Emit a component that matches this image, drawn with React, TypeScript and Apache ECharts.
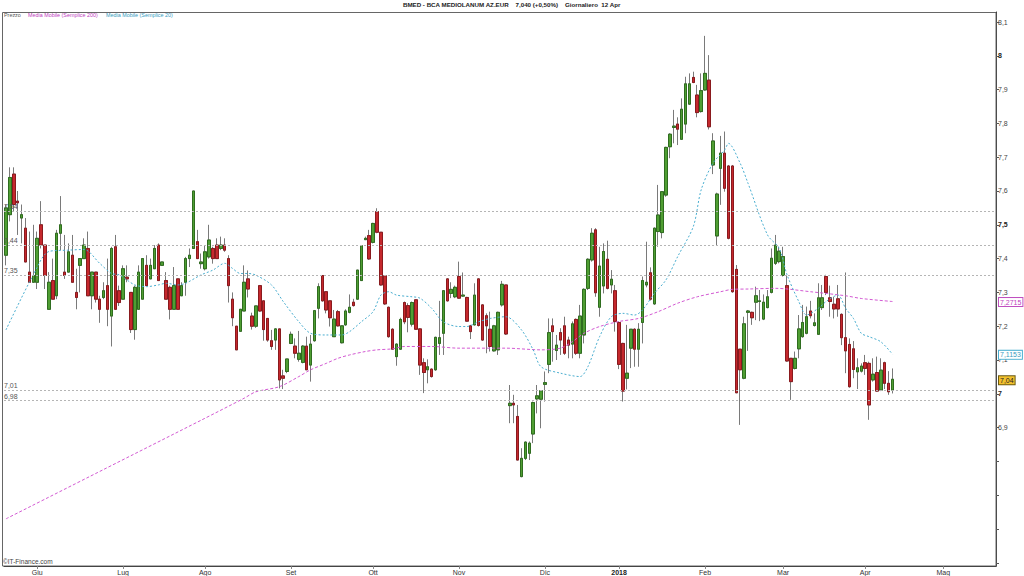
import React, { useEffect, useRef } from "react";
import * as echarts from "echarts";

// [open, close, low, high] per trading day, 22 May 2017 .. 12 Apr 2018
const candles: number[][] = [
  [7.41,7.55,7.38,7.56],[7.53,7.64,7.51,7.67],[7.65,7.56,7.54,7.67],[7.57,7.565,7.47,7.60],[7.52,7.53,7.445,7.56],
  [7.49,7.39,7.39,7.52],[7.36,7.33,7.33,7.48],[7.33,7.35,7.33,7.50],[7.33,7.46,7.31,7.48],[7.50,7.44,7.43,7.57],
  [7.44,7.35,7.31,7.44],[7.25,7.33,7.25,7.36],[7.335,7.28,7.28,7.40],[7.29,7.475,7.28,7.485],[7.475,7.50,7.425,7.585],
  [7.36,7.35,7.34,7.47],[7.36,7.42,7.36,7.445],[7.41,7.33,7.33,7.47],[7.30,7.285,7.25,7.37],[7.38,7.40,7.30,7.40],
  [7.40,7.44,7.40,7.46],[7.43,7.29,7.29,7.48],[7.29,7.36,7.25,7.36],[7.36,7.28,7.27,7.36],[7.28,7.25,7.21,7.29],
  [7.285,7.305,7.28,7.33],[7.32,7.25,7.20,7.40],[7.23,7.43,7.14,7.435],[7.435,7.25,7.25,7.47],[7.305,7.27,7.26,7.32],
  [7.28,7.37,7.28,7.38],[7.345,7.34,7.33,7.38],[7.30,7.19,7.18,7.30],[7.19,7.315,7.16,7.32],[7.25,7.36,7.25,7.38],
  [7.28,7.40,7.28,7.40],[7.38,7.32,7.32,7.41],[7.34,7.38,7.34,7.40],[7.37,7.43,7.37,7.44],[7.44,7.335,7.335,7.445],
  [7.38,7.39,7.38,7.39],[7.335,7.28,7.28,7.36],[7.315,7.25,7.22,7.32],[7.25,7.32,7.25,7.375],[7.34,7.25,7.25,7.34],
  [7.29,7.32,7.29,7.33],[7.33,7.40,7.29,7.405],[7.40,7.41,7.375,7.43],[7.43,7.60,7.43,7.60],[7.45,7.40,7.40,7.485],
  [7.385,7.39,7.37,7.415],[7.37,7.42,7.365,7.44],[7.405,7.455,7.40,7.50],[7.43,7.40,7.385,7.435],[7.44,7.40,7.40,7.46],
  [7.43,7.44,7.425,7.465],[7.44,7.425,7.42,7.46],[7.40,7.32,7.27,7.41],[7.28,7.225,7.20,7.30],[7.20,7.13,7.13,7.20],
  [7.185,7.25,7.185,7.25],[7.245,7.33,7.245,7.38],[7.34,7.31,7.285,7.365],[7.23,7.20,7.19,7.24],[7.20,7.26,7.195,7.26],
  [7.32,7.245,7.243,7.322],[7.275,7.19,7.157,7.275],[7.223,7.159,7.154,7.223],[7.157,7.14,7.13,7.189],[7.159,7.192,7.13,7.194],
  [7.192,7.041,7.016,7.192],[7.053,7.046,7.014,7.071],[7.066,7.103,7.061,7.103],[7.149,7.176,7.147,7.184],[7.141,7.12,7.105,7.164],
  [7.102,7.12,7.095,7.186],[7.093,7.141,7.09,7.144],[7.141,7.071,7.071,7.169],[7.085,7.147,7.036,7.174],[7.157,7.246,7.154,7.248],
  [7.253,7.317,7.223,7.327],[7.35,7.275,7.273,7.35],[7.302,7.248,7.238,7.302],[7.275,7.225,7.199,7.275],[7.169,7.221,7.169,7.248],
  [7.243,7.201,7.199,7.248],[7.151,7.201,7.149,7.201],[7.204,7.245,7.201,7.25],[7.241,7.256,7.238,7.294],[7.271,7.261,7.258,7.281],
  [7.28,7.366,7.278,7.366],[7.335,7.438,7.334,7.44],[7.456,7.46,7.455,7.465],[7.468,7.399,7.396,7.485],[7.448,7.504,7.445,7.506],
  [7.539,7.478,7.475,7.549],[7.478,7.322,7.32,7.478],[7.349,7.266,7.263,7.349],[7.256,7.169,7.166,7.258],[7.191,7.132,7.13,7.194],
  [7.11,7.147,7.083,7.149],[7.132,7.22,7.13,7.225],[7.27,7.213,7.206,7.273],[7.261,7.226,7.182,7.268],[7.206,7.27,7.199,7.273],
  [7.278,7.191,7.189,7.28],[7.192,7.085,7.056,7.194],[7.092,7.063,7.002,7.105],[7.071,7.08,7.031,7.102],[7.073,7.051,7.048,7.075],
  [7.071,7.167,7.068,7.169],[7.149,7.166,7.115,7.275],[7.179,7.305,7.115,7.307],[7.34,7.275,7.273,7.342],[7.297,7.309,7.283,7.33],
  [7.287,7.315,7.283,7.32],[7.347,7.283,7.281,7.391],[7.289,7.292,7.287,7.359],[7.285,7.215,7.213,7.287],[7.201,7.184,7.162,7.204],
  [7.204,7.292,7.202,7.327],[7.34,7.202,7.199,7.342],[7.263,7.159,7.157,7.265],[7.231,7.201,7.12,7.238],[7.191,7.14,7.125,7.243],
  [7.127,7.201,7.125,7.204],[7.13,7.241,7.115,7.243],[7.263,7.324,7.258,7.334],[7.322,7.177,7.174,7.322],[6.965,6.972,6.913,7.026],
  [6.972,6.967,6.913,6.997],[6.933,6.804,6.804,6.967],[6.755,6.809,6.753,6.839],[6.809,6.857,6.804,6.859],[6.824,6.854,6.804,6.859],
  [6.881,6.974,6.854,6.977],[6.985,6.994,6.942,7.026],[6.984,7.009,6.898,7.011],[7.028,7.033,6.977,7.066],[7.087,7.181,7.061,7.223],
  [7.201,7.184,7.095,7.223],[7.128,7.144,7.10,7.174],[7.181,7.159,7.115,7.194],[7.201,7.12,7.115,7.228],[7.159,7.144,7.105,7.169],
  [7.147,7.207,7.105,7.214],[7.22,7.12,7.115,7.223],[7.12,7.23,7.105,7.263],[7.174,7.309,7.149,7.312],[7.312,7.398,7.307,7.401],
  [7.396,7.475,7.391,7.49],[7.485,7.299,7.287,7.49],[7.256,7.378,7.228,7.435],[7.319,7.421,7.297,7.445],[7.398,7.312,7.309,7.453],
  [7.322,7.339,7.297,7.366],[7.305,7.214,7.184,7.322],[7.211,7.087,7.073,7.214],[7.149,7.008,6.977,7.151],[7.046,7.061,7.013,7.204],
  [7.135,7.191,7.076,7.191],[7.191,7.132,7.08,7.194],[7.132,7.191,7.08,7.209],[7.211,7.335,7.149,7.347],[7.322,7.33,7.315,7.45],
  [7.358,7.28,7.276,7.374],[7.266,7.49,7.263,7.492],[7.48,7.529,7.435,7.618],[7.477,7.598,7.46,7.598],[7.588,7.729,7.583,7.731],
  [7.731,7.768,7.697,7.771],[7.788,7.792,7.741,7.84],[7.798,7.783,7.736,7.818],[7.753,7.842,7.751,7.874],[7.798,7.917,7.771,7.938],
  [7.857,7.917,7.855,7.948],[7.936,7.921,7.919,7.953],[7.884,7.832,7.818,7.914],[7.835,7.897,7.832,7.948],[7.899,7.948,7.897,8.059],
  [7.928,7.79,7.782,8.002],[7.677,7.748,7.65,7.771],[7.467,7.591,7.44,7.595],[7.667,7.712,7.559,7.763],[7.712,7.608,7.598,7.776],
  [7.674,7.46,7.457,7.677],[7.674,7.302,7.299,7.677],[7.368,7.003,7.002,7.381],[7.132,7.071,6.908,7.132],[7.046,7.207,7.043,7.228],
  [7.241,7.245,7.127,7.248],[7.241,7.225,7.204,7.243],[7.271,7.29,7.218,7.317],[7.273,7.275,7.215,7.307],[7.221,7.271,7.218,7.294],
  [7.255,7.287,7.253,7.307],[7.30,7.401,7.297,7.43],[7.386,7.44,7.381,7.47],[7.391,7.422,7.386,7.435],[7.35,7.406,7.347,7.435],
  [7.32,7.097,7.095,7.35],[7.105,7.036,6.982,7.105],[7.075,7.105,7.072,7.125],[7.133,7.192,7.105,7.233],[7.169,7.211,7.166,7.263],
  [7.179,7.228,7.176,7.258],[7.245,7.231,7.223,7.275],[7.202,7.21,7.199,7.238],[7.176,7.284,7.174,7.327],[7.255,7.284,7.248,7.322],
  [7.347,7.30,7.292,7.352],[7.284,7.273,7.228,7.32],[7.265,7.251,7.223,7.287],[7.281,7.251,7.228,7.322],[7.235,7.166,7.144,7.238],
  [7.166,7.127,7.061,7.359],[7.146,7.021,7.018,7.164],[7.133,7.072,7.046,7.156],[7.065,7.077,7.014,7.105],[7.067,7.082,7.063,7.09],
  [7.092,7.075,7.056,7.115],[7.09,6.967,6.923,7.095],[7.041,7.058,7.036,7.105],[7.063,7.008,7.006,7.11],[7.011,7.07,7.008,7.105],
  [7.092,7.031,7.014,7.095],[7.031,7.006,6.997,7.067],[7.011,7.043,7.001,7.075],
];

// moving averages: [trading-day index, value]
const ma20: number[][] = [
  [0,7.189],[7,7.352],[11,7.421],[16,7.425],[20,7.427],[24,7.386],[27,7.356],[29,7.352],[33,7.322],[36,7.317],
  [39,7.322],[41,7.327],[44,7.322],[46,7.327],[50,7.352],[53,7.366],[56,7.386],[58,7.371],[60,7.356],[62,7.356],
  [64,7.351],[68,7.322],[71,7.273],[75,7.213],[78,7.179],[82,7.174],[86,7.174],[88,7.184],[91,7.213],[94,7.243],
  [96,7.292],[98,7.302],[100,7.292],[104,7.287],[106,7.283],[109,7.253],[112,7.213],[116,7.199],[118,7.199],[121,7.213],
  [124,7.223],[128,7.228],[132,7.189],[135,7.13],[137,7.08],[142,7.061],[147,7.051],[149,7.08],[152,7.169],[155,7.228],
  [158,7.238],[161,7.233],[163,7.248],[166,7.297],[169,7.337],[172,7.406],[176,7.495],[178,7.603],[181,7.682],[184,7.721],
  [185,7.741],[188,7.682],[190,7.623],[195,7.47],[198,7.43],[200,7.352],[203,7.273],[205,7.233],[208,7.253],[210,7.273],
  [213,7.292],[215,7.253],[217,7.223],[219,7.179],[221,7.169],[224,7.154],[227,7.117],
];
const ma200: number[][] = [
  [0,6.63],[25,6.776],[50,6.922],[61,6.987],[64,7.006],[70,7.021],[75,7.051],[78,7.071],[82,7.09],[85,7.105],
  [88,7.115],[92,7.125],[95,7.13],[99,7.133],[102,7.14],[109,7.14],[116,7.135],[128,7.135],[137,7.13],[142,7.135],
  [145,7.154],[148,7.179],[152,7.199],[157,7.214],[162,7.223],[167,7.243],[172,7.268],[177,7.287],[183,7.302],[186,7.309],
  [190,7.31],[197,7.312],[206,7.302],[215,7.29],[219,7.282],[227,7.273],
];

const levels = [7.54, 7.44, 7.35, 7.01, 6.98];
const yTicks = [6.5, 6.6, 6.7, 6.8, 6.9, 7.0, 7.1, 7.2, 7.3, 7.4, 7.5, 7.6, 7.7, 7.8, 7.9, 8.0, 8.1];
const monthLabels = ["2018", "Feb", "Mar", "Apr", "Mag", "Giu", "Lug", "Ago", "Set", "Ott", "Nov", "Dic"];
const holidays = ["2017-08-15", "2017-12-25", "2017-12-26", "2018-01-01", "2018-03-30", "2018-04-02", "2018-05-01"];
const firstDay = "2017-05-22";
const axisDays = 254;
const lastMa200 = 7.2715;
const lastMa20 = 7.1153;
const lastPrice = 7.04;

const titleText = "BMED - BCA MEDIOLANUM AZ.EUR    7,040 (+0,50%)    Giornaliero  12 Apr";

function tradingDays(start: string, n: number): string[] {
  const out: string[] = [];
  const d = new Date(start + "T00:00:00Z");
  while (out.length < n) {
    const dow = d.getUTCDay();
    const s = d.toISOString().slice(0, 10);
    if (dow !== 0 && dow !== 6 && !holidays.includes(s)) out.push(s);
    d.setUTCDate(d.getUTCDate() + 1);
  }
  return out;
}

const comma = (v: number, digits: number) => v.toFixed(digits).replace(".", ",");

export default function App() {
  const ref = useRef<HTMLDivElement>(null);
  useEffect(() => {
    const chart = echarts.init(ref.current!, undefined, { renderer: "svg" });
    const dates = tradingDays(firstDay, axisDays);
    const monthStart = dates.map((d, i) => i > 0 && d.slice(0, 7) !== dates[i - 1].slice(0, 7));
    const showIdx = (i: number) => monthStart[i];
    const font = "Liberation Sans";
    const bodies = candles.map(([o, c]) => [o, c, Math.min(o, c), Math.max(o, c)]);

    chart.setOption({
      animation: false,
      backgroundColor: "#ffffff",
      grid: { left: 4, right: 28, top: 12, bottom: 10, containLabel: false },
      xAxis: {
        type: "category",
        data: dates,
        boundaryGap: true,
        axisLine: { show: true, lineStyle: { color: "#222", width: 1 } },
        axisTick: { show: true, alignWithLabel: true, interval: showIdx, length: 3, lineStyle: { color: "#888" } },
        axisLabel: {
          interval: showIdx,
          margin: 3,
          fontSize: 7,
          fontFamily: font,
          color: "#333",
          formatter: (v: string) => {
            const m = +v.slice(5, 7);
            return m === 1 ? "{b|" + v.slice(0, 4) + "}" : monthLabels[m - 1];
          },
          rich: { b: { fontSize: 7, fontWeight: "bold", fontFamily: font, color: "#222" } },
        },
        splitLine: { show: false },
      },
      yAxis: {
        type: "value",
        position: "right",
        min: 6.4905,
        max: 8.1296,
        axisLine: { show: true, lineStyle: { color: "#333", width: 1 } },
        axisTick: { show: true, customValues: yTicks, length: 3, lineStyle: { color: "#555" } },
        axisLabel: {
          customValues: yTicks,
          margin: 2,
          fontSize: 7,
          fontFamily: font,
          color: "#444",
          formatter: (v: number) => {
            if (v < 6.85) return "";
            const r = Math.round(v * 10) / 10;
            const s = (Number.isInteger(r) ? r.toFixed(0) : r.toFixed(1)).replace(".", ",");
            return Math.abs(r * 2 - Math.round(r * 2)) < 1e-6 ? "{b|" + s + "}" : s;
          },
          rich: { b: { fontSize: 7, fontWeight: "bold", fontFamily: font, color: "#222" } },
        },
        splitLine: { show: false },
      },
      series: [
        {
          name: "livelli",
          type: "line",
          data: [],
          z: 1,
          markLine: {
            silent: true,
            symbol: ["none", "none"],
            animation: false,
            lineStyle: { color: "#b5b5b5", type: [2, 2], width: 1 },
            label: { show: false },
            data: levels.map((v) => ({ yAxis: v })),
          },
        },
        {
          name: "Prezzo",
          type: "candlestick",
          data: candles,
          barWidth: 3,
          z: 2,
          itemStyle: { color: "#4f9e33", color0: "#c5282d", borderColor: "#7a7a7a", borderColor0: "#7a7a7a", borderWidth: 1 },
        },
        {
          name: "bodies",
          type: "candlestick",
          data: bodies,
          barWidth: 3,
          z: 3,
          itemStyle: { color: "#4f9e33", color0: "#c5282d", borderColor: "#2f6d1f", borderColor0: "#8a1a1e", borderWidth: 1 },
        },
        {
          name: "Media Mobile (Semplice 200)",
          type: "line",
          data: ma200,
          smooth: 0.3,
          showSymbol: false,
          symbol: "none",
          z: 4,
          lineStyle: { color: "#d35ad3", width: 1, type: [3, 2] },
        },
        {
          name: "Media Mobile (Semplice 20)",
          type: "line",
          data: ma20,
          smooth: 0.3,
          showSymbol: false,
          symbol: "none",
          z: 4,
          lineStyle: { color: "#4aaed0", width: 1, type: [2, 2] },
        },
      ],
    });

    const yPix = (v: number) => chart.convertToPixel({ yAxisIndex: 0 }, v) as number;
    const box = (v: number, text: string, fill: string, bg: string, border: string) => ({
      type: "text",
      x: 999,
      y: yPix(v),
      z: 20,
      style: {
        text,
        fontSize: 7,
        fontFamily: font,
        fill,
        backgroundColor: bg,
        borderColor: border,
        borderWidth: 1,
        padding: [1, 1, 0, 1],
        verticalAlign: "middle",
        align: "left",
      },
    });
    const levelLabel = (v: number) => ({
      type: "text",
      x: 4,
      y: yPix(v) - 1,
      z: 20,
      silent: true,
      style: { text: comma(v, 2), fontSize: 7, fontFamily: font, fill: "#555", verticalAlign: "bottom", align: "left" },
    });

    chart.setOption({
      graphic: [
        { type: "rect", shape: { x: 2.5, y: 12.5, width: 993.5, height: 553.5 }, style: { fill: "none", stroke: "#666", lineWidth: 1 }, silent: true, z: 10 },
        { type: "text", left: "center", top: 1, style: { text: titleText, fontSize: 6.2, fontWeight: "bold", fontFamily: font, fill: "#222" } },
        { type: "text", left: 4, top: 12, style: { text: "Prezzo", fontSize: 5.4, fontFamily: font, fill: "#555" } },
        { type: "text", left: 28, top: 12, style: { text: "Media Mobile (Semplice 200)", fontSize: 5.4, fontFamily: font, fill: "#c040c0" } },
        { type: "text", left: 106, top: 12, style: { text: "Media Mobile (Semplice 20)", fontSize: 5.4, fontFamily: font, fill: "#3a9cc0" } },
        { type: "text", left: 3, top: 558, style: { text: "\u00A9IT-Finance.com", fontSize: 6.5, fontFamily: font, fill: "#444" } },
        ...levels.map(levelLabel),
        box(lastMa200, comma(lastMa200, 4), "#c040c0", "#ffffff", "#c050c0"),
        box(lastMa20, comma(lastMa20, 4), "#3a9cc0", "#ffffff", "#4aaed0"),
        box(lastPrice, comma(lastPrice, 2), "#222", "#f2c12e", "#6b5a10"),
      ],
    });
    return () => chart.dispose();
  }, []);
  return <div ref={ref} style={{ position: "absolute", left: 0, top: 0, width: 1024, height: 576, background: "#fff" }} />;
}
